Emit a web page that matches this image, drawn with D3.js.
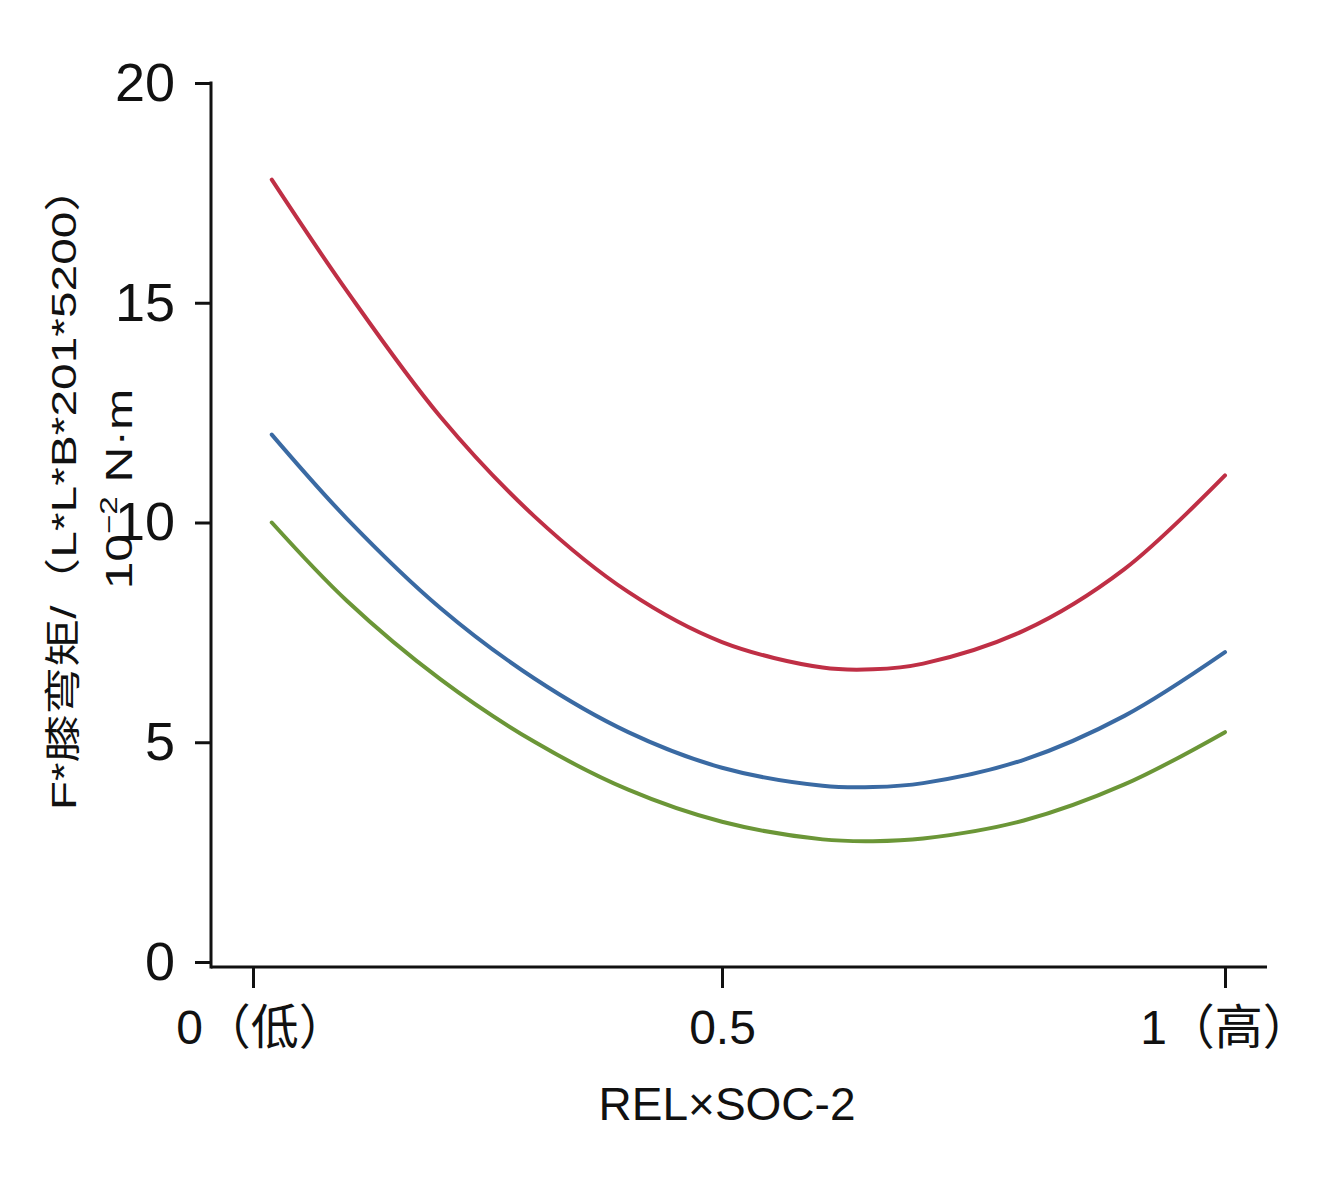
<!DOCTYPE html>
<html lang="zh">
<head>
<meta charset="UTF-8">
<title>REL×SOC-2</title>
<style>
	body{margin:0;background:#fff;}
	svg text{font-family:"Liberation Sans",Arial,"Noto Sans CJK SC",sans-serif;fill:#111;}
</style>
</head>
<body>
<script src="https://cdn.jsdelivr.net/npm/d3@7/dist/d3.min.js"></script>
<script>
	// values
	var xs=[0.02,0.1,0.2,0.3,0.4,0.5,0.6,0.65,0.7,0.8,0.9,1.0];
	var redVals  =[17.8,15.27,12.40,10.14,8.42,7.28,6.70,6.66,6.79,7.54,8.94,11.07];
	var blueVals =[12.0,10.09,8.05,6.45,5.23,4.42,4.01,3.98,4.07,4.60,5.60,7.05];
	var greenVals=[10.0,8.22,6.43,5.01,3.92,3.19,2.79,2.75,2.81,3.22,4.04,5.23];
	var seriesColors=['#bf2f45','#3a6aa3','#6b9637'];
	var yTicks=[0,5,10,15,20];
	var xTicks=[0,0.5,1];
	var xTickLabels=['0（低）','0.5','1（高）'];

	var width=1329,height=1183;
	var svg=d3.select('body').append('svg')
			.attr('width',width)
			.attr('height',height);

	var xScale=d3.scaleLinear()
			.domain([0,0.5,1])
			.range([253,722,1225]);
	var yScale=d3.scaleLinear()
			.domain([0,20])
			.range([962,83]);
	var axisY=967, axisLeftX=211, axisRightX=1267;

	// y axis
	var yAxis=d3.axisLeft(yScale)
			.tickValues(yTicks)
			.tickSize(16)
			.tickSizeOuter(0)
			.tickPadding(20);
	var gy=svg.append('g')
			.attr('transform','translate('+axisLeftX+',0)')
			.call(yAxis);
	gy.select('.domain').remove();
	gy.selectAll('line').attr('stroke','#111').attr('stroke-width',3);
	gy.selectAll('text').attr('font-size','54px');
	gy.append('line')
			.attr('x1',0).attr('x2',0)
			.attr('y1',yScale(20)-1.5).attr('y2',axisY+1.5)
			.attr('stroke','#111').attr('stroke-width',3);

	// x axis
	var xAxis=d3.axisBottom(xScale)
			.tickValues(xTicks)
			.tickSize(21)
			.tickSizeOuter(0)
			.tickPadding(22)
			.tickFormat(function(d,i){return xTickLabels[i];});
	var gx=svg.append('g')
			.attr('transform','translate(0,'+axisY+')')
			.call(xAxis);
	gx.select('.domain').remove();
	gx.selectAll('line').attr('stroke','#111').attr('stroke-width',3);
	gx.selectAll('text')
			.attr('font-size','48px')
			.attr('dx',function(d,i){return i==0?8:0;});
	gx.append('line')
			.attr('x1',axisLeftX).attr('x2',axisRightX)
			.attr('y1',0).attr('y2',0)
			.attr('stroke','#111').attr('stroke-width',3);

	// axis titles
	svg.append('text')
			.attr('x',727)
			.attr('y',1120)
			.attr('text-anchor','middle')
			.attr('font-size','46px')
			.text('REL×SOC-2');

	svg.append('text')
			.attr('transform','translate(76,487) rotate(-90) scale(1.33,1)')
			.attr('text-anchor','middle')
			.attr('font-size','36px')
			.text('F*膝弯矩/（L*L*B*201*5200）');

	var t2=svg.append('text')
			.attr('transform','translate(132,489) rotate(-90) scale(1.38,1)')
			.attr('text-anchor','middle')
			.attr('font-size','36px');
	t2.append('tspan').text('10');
	t2.append('tspan').attr('dy',-15).attr('font-size','24px').text('−2');
	t2.append('tspan').attr('dy',15).text(' N·m');

	// curves
	var series=[redVals,blueVals,greenVals];
	var line=d3.line()
			.x(function(d,i){return xScale(xs[i]);})
			.y(function(d){return yScale(d);})
			.curve(d3.curveCatmullRom.alpha(0.5));
	svg.selectAll('.curve')
			.data(series)
			.enter()
			.append('path')
			.attr('class','curve')
			.attr('fill','none')
			.attr('stroke',function(d,i){return seriesColors[i];})
			.attr('stroke-width',4)
			.attr('stroke-linecap','round')
			.attr('d',line);
</script>
</body>
</html>
